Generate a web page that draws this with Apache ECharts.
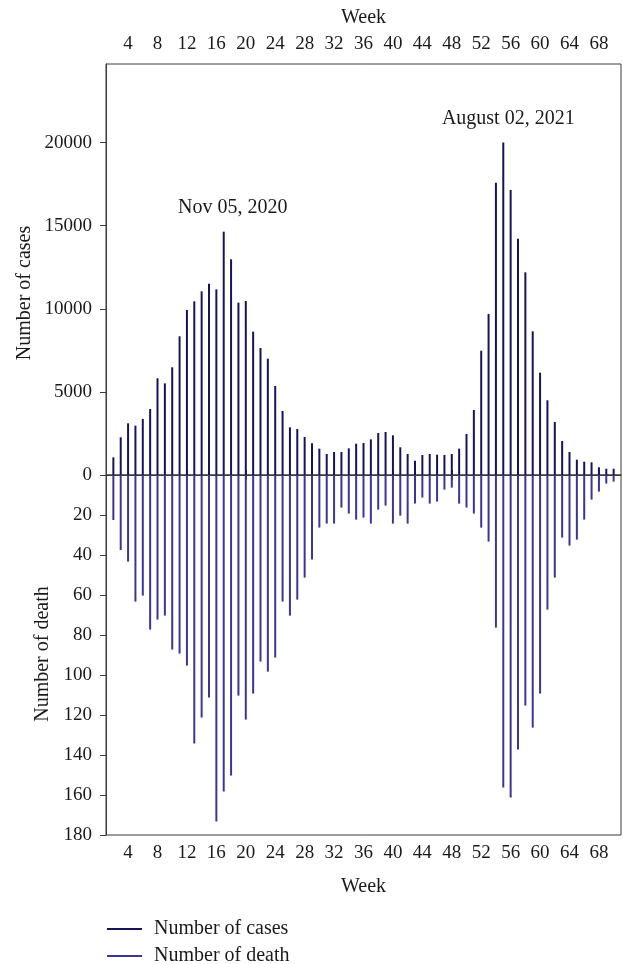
<!DOCTYPE html>
<html>
<head>
<meta charset="utf-8">
<script src="https://cdn.jsdelivr.net/npm/echarts@6/dist/echarts.min.js"></script>
<style>
html,body{margin:0;padding:0;background:#fff;}
#chart{width:623px;height:964px;}
</style>
</head>
<body>
<div id="chart"></div>
<script>
// ---- data ----
const weeks = [2,3,4,5,6,7,8,9,10,11,12,13,14,15,16,17,18,19,20,21,22,23,24,25,26,27,28,29,30,31,32,33,34,35,36,37,38,39,40,41,42,43,44,45,46,47,48,49,50,51,52,53,54,55,56,57,58,59,60,61,62,63,64,65,66,67,68,69,70];
const cases = [1065,2270,3110,2970,3370,3970,5820,5515,6480,8345,9930,10450,11050,11510,11170,14640,12980,10370,10470,8625,7640,7000,5355,3850,2870,2770,2290,1905,1585,1265,1385,1385,1605,1885,1925,2145,2527,2587,2387,1665,1265,860,1205,1265,1225,1205,1265,1585,2467,3910,7480,9690,17590,20000,17150,14220,12195,8645,6155,4495,3190,2045,1385,920,800,764,463,380,380];
const deaths = [22.5,37.5,43.3,63.3,60.3,77.3,72.3,70.3,87.3,89.3,95.3,134.3,121.3,111.3,173.3,158.3,150.3,110.3,122.3,109.3,93.3,98.3,91.3,63.3,70.3,62.3,51.3,42.3,26.3,24.3,24.3,16.3,19.3,22.3,21.3,24.3,17.3,15.3,24.3,20.3,24.3,14.3,11.3,14.3,13.3,7.3,6.3,14.3,16.3,19.3,26.3,33.3,76.3,156.3,161.3,137.3,115.3,126.3,109.3,67.3,51.3,31.3,35.3,32.3,22.3,12.3,8.3,4.3,3.3];
const weekTicks = [4,8,12,16,20,24,28,32,36,40,44,48,52,56,60,64,68];
const caseTicks = [0,5000,10000,15000,20000];
const deathTicks = [0,20,40,60,80,100,120,140,160,180];
const annotations = [{week:17, text:'Nov 05, 2020'}, {week:55, text:'August 02, 2021'}];
const seriesNames = ['Number of cases','Number of death'];

// ---- chart ----
const FONT = 'Liberation Serif';
const FS = 19;
const FN = 20;
const TXT = '#1a1a1a';
const AX = '#3a3a3a';
const C_CASES = '#17135a';
const C_DEATH = '#3d3497';
const plain = v => String(v);

const caseData = weeks.map((w,i) => {
  const a = annotations.find(x => x.week === w);
  const item = {value:[w, cases[i]]};
  if (a) {
    item.label = {show:true, position:'top', formatter:a.text, distance:14,
      offset:[w===17?9:5,0], color:TXT, fontFamily:FONT, fontSize:FN};
  }
  return item;
});
const deathData = weeks.map((w,i) => [w, deaths[i]]);

const chart = echarts.init(document.getElementById('chart'), null, {renderer:'canvas'});
const axisCommon = {
  axisLine:{show:true, lineStyle:{color:AX, width:1}},
  splitLine:{show:false}
};
const legendCommon = {
  orient:'horizontal', left:107, padding:0, itemWidth:35, itemHeight:2,
  icon:'rect',
  textStyle:{color:TXT, fontFamily:FONT, fontSize:FN, padding:[0,0,0,7]}
};
chart.setOption({
  animation:false,
  backgroundColor:'#fff',
  grid:[
    {left:106, right:2, top:64, height:411, show:true, borderColor:AX, borderWidth:1, backgroundColor:'transparent'},
    {left:106, right:2, top:475, height:360, show:true, borderColor:AX, borderWidth:1, backgroundColor:'transparent'}
  ],
  xAxis:[
    Object.assign({}, axisCommon, {
      type:'value', gridIndex:0, position:'top', min:1, max:71,
      name:'Week', nameLocation:'middle', nameGap:36,
      nameTextStyle:{color:TXT, fontFamily:FONT, fontSize:FN},
      axisTick:{show:true, length:5, lineStyle:{color:AX}, customValues:weekTicks},
      axisLabel:{color:TXT, fontFamily:FONT, fontSize:FS, margin:10, formatter:plain, customValues:weekTicks}
    }),
    Object.assign({}, axisCommon, {
      type:'value', gridIndex:1, position:'bottom', min:1, max:71,
      name:'Week', nameLocation:'middle', nameGap:42,
      nameTextStyle:{color:TXT, fontFamily:FONT, fontSize:FN},
      axisTick:{show:true, length:5, lineStyle:{color:AX}, customValues:weekTicks},
      axisLabel:{color:TXT, fontFamily:FONT, fontSize:FS, margin:9, formatter:plain, customValues:weekTicks}
    })
  ],
  yAxis:[
    Object.assign({}, axisCommon, {
      type:'value', gridIndex:0, min:0, max:24730,
      axisTick:{show:true, length:6, lineStyle:{color:AX}, customValues:caseTicks},
      axisLabel:{color:TXT, fontFamily:FONT, fontSize:FS, margin:14, formatter:plain, customValues:caseTicks}
    }),
    Object.assign({}, axisCommon, {
      type:'value', gridIndex:1, min:0, max:180, inverse:true,
      axisTick:{show:true, length:6, lineStyle:{color:AX}, customValues:deathTicks},
      axisLabel:{color:TXT, fontFamily:FONT, fontSize:FS, margin:14, formatter:plain, customValues:deathTicks.slice(1)}
    })
  ],
  legend:[
    Object.assign({}, legendCommon, {top:919, data:[seriesNames[0]]}),
    Object.assign({}, legendCommon, {top:946, data:[seriesNames[1]]})
  ],
  series:[
    {name:seriesNames[0], type:'bar', xAxisIndex:0, yAxisIndex:0, barWidth:2, data:caseData, itemStyle:{color:C_CASES}},
    {name:seriesNames[1], type:'bar', xAxisIndex:1, yAxisIndex:1, barWidth:2, data:deathData, itemStyle:{color:C_DEATH}}
  ],
  graphic:[
    {type:'text', x:25, y:293, rotation:Math.PI/2, style:{text:'Number of cases', font:FN+'px "'+FONT+'"', fill:TXT, align:'center', verticalAlign:'middle'}},
    {type:'text', x:43, y:654, rotation:Math.PI/2, style:{text:'Number of death', font:FN+'px "'+FONT+'"', fill:TXT, align:'center', verticalAlign:'middle'}}
  ]
});
</script>
</body>
</html>
